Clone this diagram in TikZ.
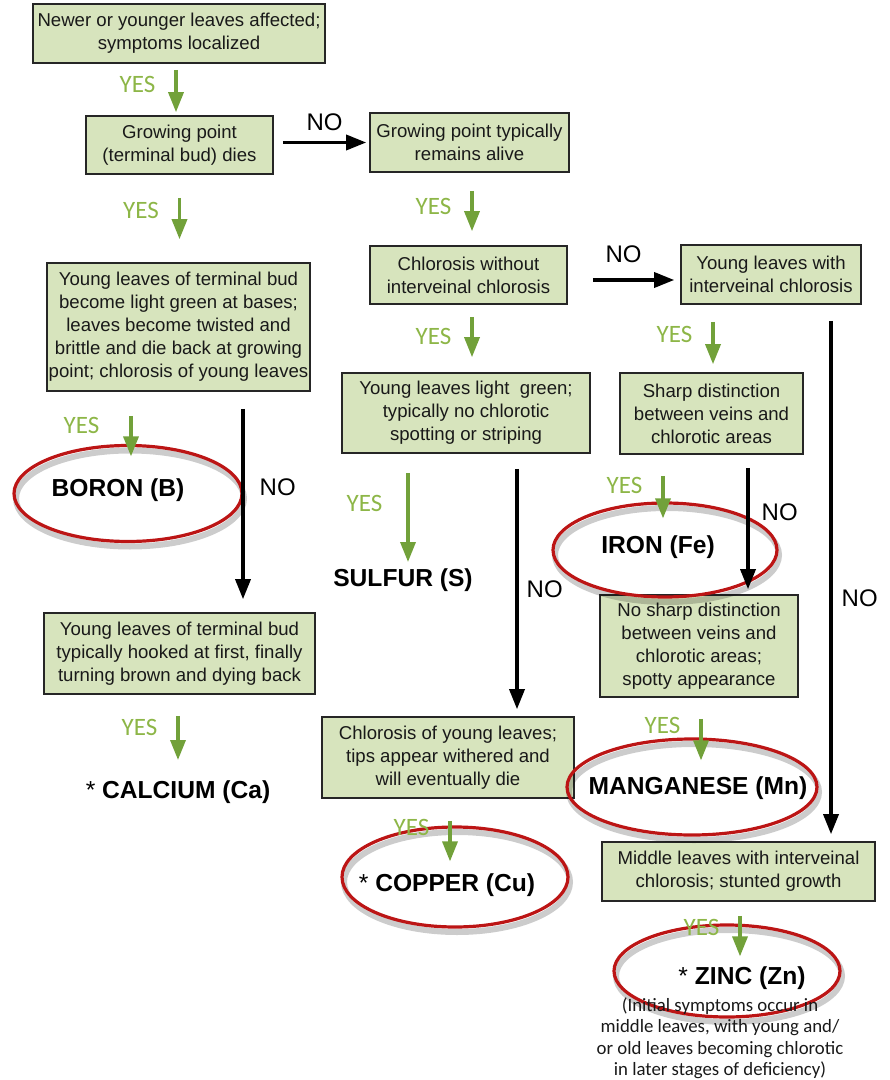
\documentclass[tikz,border=0pt]{standalone}
\usepackage{fontspec}
\newfontfamily\arialfont{Liberation Sans}
\newfontfamily\calfont{Carlito}
\usetikzlibrary{positioning, calc, arrows.meta, shapes.geometric}
\definecolor{boxgreen}{HTML}{D7E4BD}
\definecolor{arrowgreen}{HTML}{72A13A}
\definecolor{yesgreen}{HTML}{8DB647}
\definecolor{ringred}{HTML}{BC1515}
\tikzset{question/.style={draw=black!85, fill=boxgreen, line width=0.8pt, align=center, inner sep=0pt, text=black!90, font=\arialfont\fontsize{9.3}{11.5}\selectfont}}
\tikzset{yes/.style={draw=arrowgreen, line width=1.7pt, -{Triangle[length=10pt, width=7.5pt]}}}
\tikzset{no/.style={draw=black, line width=1.7pt, -{Triangle[length=10pt, width=7.5pt]}}}
\tikzset{yeslabel/.style={text=yesgreen, inner sep=0pt, font=\calfont\fontsize{12.5}{14}\selectfont}}
\tikzset{nolabel/.style={inner sep=0pt, font=\arialfont\fontsize{12}{14}\selectfont}}
\tikzset{element/.style={inner sep=0pt, font=\arialfont\bfseries\fontsize{12.3}{14}\selectfont}}
\tikzset{ring/.style={ellipse, draw=ringred, line width=1.6pt, inner sep=0pt, preaction={draw=black, draw opacity=.2, line width=3pt, transform canvas={shift={(1pt,-2.5pt)}}}}}

\begin{document}
\begin{tikzpicture}[x=0.5pt, y=-0.5pt]
  \useasboundingbox (0,0) rectangle (889,1080);

  % questions
  \node[question, minimum width=146pt, minimum height=29.5pt] (newer) at (179,33.5) {Newer or younger leaves affected;\\symptoms localized};
  \node[question, minimum width=93.5pt, minimum height=29pt] (tipdies) at (179.5,145) {Growing point\\(terminal bud) dies};
  \node[question, minimum width=99.5pt, minimum height=29.5pt] (tipalive) at (469.5,142.5) {Growing point typically\\remains alive};
  \node[question, minimum width=131.5pt, minimum height=64pt] (boronq) at (178.5,327) {Young leaves of terminal bud\\become light green at bases;\\leaves become twisted and\\brittle and die back at growing\\point; chlorosis of young leaves};
  \node[question, minimum width=98.5pt, minimum height=29pt] (nointer) at (468.5,275) {Chlorosis without\\interveinal chlorosis};
  \node[question, minimum width=90pt, minimum height=29.5pt] (inter) at (771,274.5) {Young leaves with\\interveinal chlorosis};
  \node[question, minimum width=124pt, minimum height=40pt] (lightgreen) at (466,413) {Young leaves light\ \ green;\\typically no chlorotic\\spotting or striping};
  \node[question, minimum width=91.5pt, minimum height=40.5pt] (sharp) at (711.5,413.5) {Sharp distinction\\between veins and\\chlorotic areas};
  \node[question, minimum width=135.5pt, minimum height=40.5pt] (calciumq) at (179.5,653.5) {Young leaves of terminal bud\\typically hooked at first, finally\\turning brown and dying back};
  \node[question, minimum width=99pt, minimum height=51pt] (nosharp) at (699,646) {No sharp distinction\\between veins and\\chlorotic areas;\\spotty appearance};
  \node[question, minimum width=126pt, minimum height=40.5pt] (withered) at (448,757.5) {Chlorosis of young leaves;\\tips appear withered and\\will eventually die};
  \node[question, minimum width=136.5pt, minimum height=29.5pt] (middle) at (738.5,871.5) {Middle leaves with interveinal\\chlorosis; stunted growth};

  % rings round the answers
  \node[ring, minimum width=114pt, minimum height=48pt] (boronring) at (128,493.5) {};
  \node[ring, minimum width=112pt, minimum height=47pt] (ironring) at (665,550) {};
  \node[ring, minimum width=125pt, minimum height=48pt] (mnring) at (692,787) {};
  \node[ring, minimum width=113pt, minimum height=50pt] (curing) at (455,877) {};
  \node[ring, minimum width=113pt, minimum height=46pt] (znring) at (727,971) {};

  % answers
  \node[element] (boron) at (118,490) {BORON (B)};
  \node[element] (sulfur) at (403,580) {SULFUR (S)};
  \node[element] (calcium) at (178,792) {{\mdseries *} CALCIUM (Ca)};
  \node[element] (iron) at (658,547) {IRON (Fe)};
  \node[element] (manganese) at (698,788) {MANGANESE (Mn)};
  \node[element] (copper) at (447,885) {{\mdseries *} COPPER (Cu)};
  \node[element] (zinc) at (742,978) {{\mdseries *} ZINC (Zn)};
  \node[align=center, inner sep=0pt, text=black!90, font=\calfont\fontsize{9.4}{10.75}\selectfont] (zincnote) at (720,1038) {(Initial symptoms occur in\\middle leaves, with young and/\\or old leaves becoming chlorotic\\in later stages of deficiency)};

  % yes
  \draw[yes] ($(newer.south)+(-1.5pt,-3pt)$) -- ($(newer.south |- tipdies.north)+(-1.5pt,1.5pt)$) node[yeslabel, pos=.34, left=9.5pt] {YES};
  \draw[yes] ($(tipdies.south)+(0,-11.5pt)$) -- ($(tipdies.south |- boronq.north)+(0,11.5pt)$) node[yeslabel, pos=.3, left=9.5pt] {YES};
  \draw[yes] ($(tipalive.south)+(1.25pt,-9pt)$) -- ($(tipalive.south |- nointer.north)+(1.25pt,7pt)$) node[yeslabel, pos=.38, left=9.5pt] {YES};
  \draw[yes] ($(nointer.south)+(1.75pt,-6pt)$) -- ($(nointer.south |- lightgreen.north)+(1.75pt,7.5pt)$) node[yeslabel, pos=.48, left=9.5pt] {YES};
  \draw[yes] ($(sharp.north |- inter.south)+(0.75pt,-8.5pt)$) -- ($(sharp.north)+(0.75pt,4pt)$) node[yeslabel, pos=.3, left=9.5pt] {YES};
  \draw[yes] ($(boronring.north |- boronq.south)+(1.5pt,-12pt)$) -- ($(boronring.north)+(1.5pt,-6.25pt)$) node[yeslabel, pos=.23, left=15pt] {YES};
  \draw[yes] ($(sulfur.center |- lightgreen.south)+(2.5pt,-9.5pt)$) -- ($(sulfur.center)+(2.5pt,9pt)$) node[yeslabel, pos=.34, left=12pt] {YES};
  \draw[yes] ($(ironring.north |- sharp.south)+(-1pt,-10.5pt)$) -- ($(ironring.north)+(-1pt,-8.5pt)$) node[yeslabel, pos=.22, left=9.5pt] {YES};
  \draw[yes] ($(calcium.center |- calciumq.south)+(0,-10.5pt)$) -- ($(calcium.center)+(0,16pt)$) node[yeslabel, pos=.27, left=9.5pt] {YES};
  \draw[yes] ($(mnring.north |- nosharp.south)+(4.5pt,-10.5pt)$) -- ($(mnring.north)+(4.5pt,-11.5pt)$) node[yeslabel, pos=.16, left=9.5pt] {YES};
  \draw[yes] ($(curing.north |- withered.south)+(-2.5pt,-11pt)$) -- ($(curing.north)+(-2.5pt,-18pt)$) node[yeslabel, pos=.16, left=9.5pt] {YES};
  \draw[yes] ($(znring.north |- middle.south)+(6.5pt,-7pt)$) -- ($(znring.north)+(6.5pt,-16.5pt)$) node[yeslabel, pos=.28, left=9.5pt] {YES};

  % no
  \draw[no] ($(tipdies.east |- tipalive.west)+(4.5pt,0)$) -- ($(tipalive.west)+(-1.5pt,0)$) node[nolabel, midway, above=5pt] {NO};
  \draw[no] ($(nointer.east)+(12.5pt,-2.5pt)$) -- ($(inter.west)+(-3pt,-2.75pt)$) node[nolabel, midway, above=8pt, xshift=-5pt] {NO};
  \draw[no] ($(boronq.south)+(32.25pt,-8.5pt)$) -- ($(boronq.south |- calciumq.north)+(32.25pt,6.5pt)$) node[nolabel, pos=.41, right=7.5pt] {NO};
  \draw[no] ($(lightgreen.south)+(25.5pt,-7.5pt)$) -- ($(lightgreen.south |- withered.north)+(25.5pt,3.5pt)$) node[nolabel, pos=.5, right=4pt] {NO};
  \draw[no] ($(sharp.south)+(18.25pt,-6.5pt)$) -- ($(sharp.south |- nosharp.north)+(18.25pt,2.5pt)$) node[nolabel, pos=.37, right=6pt] {NO};
  \draw[no] ($(inter.south)+(30pt,-8pt)$) -- ($(inter.south |- middle.north)+(30pt,3.5pt)$) node[nolabel, pos=.54, right=4.5pt] {NO};

\end{tikzpicture}
\end{document}
